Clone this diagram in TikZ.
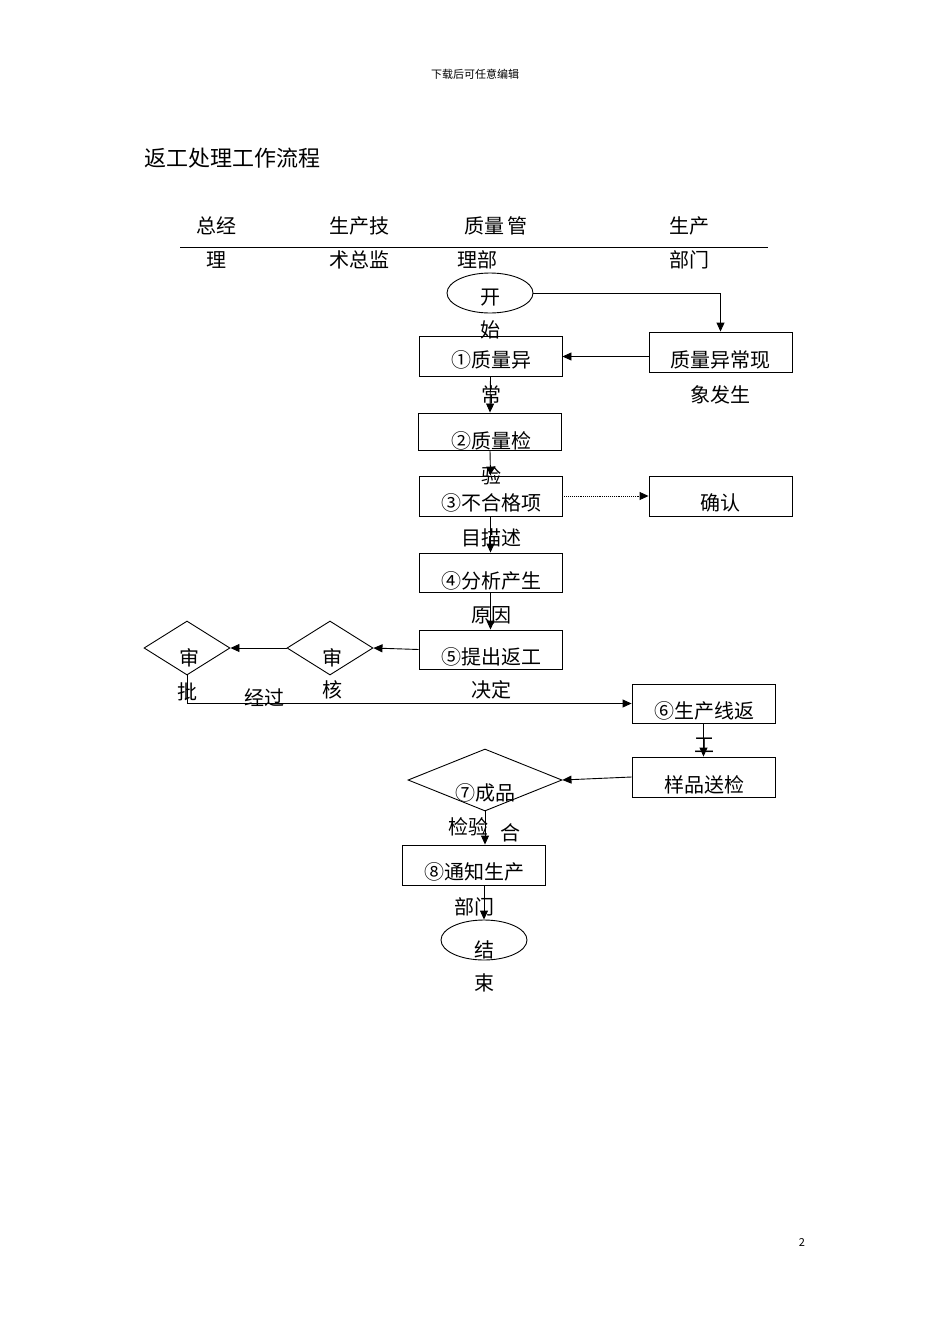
\documentclass[tikz,border=0pt]{standalone}
\usepackage{fontspec}
\setmainfont{Noto Sans CJK SC}
\usetikzlibrary{shapes.geometric,arrows.meta}
\begin{document}
\begin{tikzpicture}[x=1pt,y=-1pt,
  every path/.style={line width=0.9pt},
  box/.style={draw,rectangle,inner sep=0,minimum width=143,minimum height=40},
  dia/.style={draw,diamond,inner sep=0},
  ell/.style={draw,ellipse,inner sep=0,minimum width=86,minimum height=40},
  t/.style={inner sep=0,font=\fontsize{20}{20}\selectfont},
  arr/.style={-{Triangle[length=9pt,width=8pt]}}]
\useasboundingbox (0,0) rectangle (950,1344);
\node[inner sep=0,font=\fontsize{11}{11}\selectfont] (hd) at (475,74) {下载后可任意编辑};
\node[inner sep=0,anchor=west,font=\fontsize{22}{22}\selectfont] (title) at (144,158) {返工处理工作流程};
% header
\coordinate (l1) at (180,247); \coordinate (l2) at (768,247);
\draw (l1) -- (l2);
\node[t] (c1a) at (216,226) {总经}; \node[t] (c1b) at (216,260) {理};
\node[t] (c2a) at (359,226) {生产技}; \node[t] (c2b) at (359,260) {术总监};
\node[t] (c3a) at (496,226) {质量\,管}; \node[t,anchor=west] (c3b) at (457,260) {理部};
\node[t] (c4a) at (689,226) {生产}; \node[t] (c4b) at (689,260) {部门};
% shapes
\node[ell] (start) at (490,293) {};
\node[box] (b1) at (490.5,356.5) {};
\node[box,minimum height=37] (b2) at (490,431.5) {};
\node[box] (b3) at (490.5,496) {};
\node[box,minimum height=39] (b4) at (490.5,572.5) {};
\node[box,minimum height=39] (b5) at (490.5,649.5) {};
\node[box] (q) at (720.5,352) {};
\node[box] (ok) at (720.5,496) {};
\node[dia,minimum width=86,minimum height=54] (sh) at (330,648) {};
\node[dia,minimum width=86,minimum height=54] (sp) at (187,648) {};
\node[box,minimum height=39] (b6) at (703.5,703.5) {};
\node[box] (yp) at (703.5,777) {};
\node[dia,minimum width=154,minimum height=62] (b7) at (485,780) {};
\node[box] (b8) at (473.5,865) {};
\node[ell] (end) at (484,940) {};
% texts
\node[t] (x0a) at (490,298) {开}; \node[t] (x0b) at (490,330) {始};
\node[t] (x1a) at (491,360) {①质量异}; \node[t] (x1b) at (491,395) {常};
\node[t] (xqa) at (720,360) {质量异常现}; \node[t] (xqb) at (720,395) {象发生};
\node[t] (x2a) at (491,441) {②质量检}; \node[t] (x2b) at (491,476) {验};
\node[t] (x3a) at (491,503) {③不合格项}; \node[t] (x3b) at (491,538) {目描述};
\node[t] (xok) at (720,503) {确认};
\node[t] (x4a) at (491,581) {④分析产生}; \node[t] (x4b) at (491,615) {原因};
\node[t] (x5a) at (491,657) {⑤提出返工}; \node[t] (x5b) at (491,690) {决定};
\node[t] (xsha) at (332,658) {审}; \node[t] (xshb) at (332,690) {核};
\node[t] (xspa) at (189,658) {审}; \node[t] (xspb) at (187,692) {批};
\node[t] (xjg) at (264,698) {经过};
\node[t] (x6a) at (704,711) {⑥生产线返}; \node[t] (x6b) at (704,745) {工};
\node[t] (xyp) at (704,785) {样品送检};
\node[t] (x7a) at (485,793) {⑦成品}; \node[t] (x7b) at (468,827) {检验}; \node[t] (x7c) at (510,833) {合};
\node[t] (x8a) at (474,872) {⑧通知生产}; \node[t] (x8b) at (474,907) {部门};
\node[t] (xea) at (484,950) {结}; \node[t] (xeb) at (484,983) {束};
\node[inner sep=0,font=\fontsize{11}{11}\selectfont] (pg) at (802,1242) {2};
% connectors
\draw[arr] (start.east) -| (q.north);
\draw[arr] (q.west |- b1.east) -- (b1.east);
\draw[arr] (b1.south) -- (b2.north);
\draw[arr] (b2.south) -- (b3.north);
\draw[arr,densely dotted] (b3.east) -- (ok.west);
\draw[arr] (b3.south) -- (b4.north);
\draw[arr] (b4.south) -- (b5.north);
\draw[arr] (b5.west) -- (sh.east);
\draw[arr] (sh.west) -- (sp.east);
\draw[arr] (sp.south) |- (b6.west);
\draw[arr] (b6.south) -- (yp.north);
\draw[arr] (yp.west) -- (b7.east);
\draw[arr] (b7.south) -- (b8.north -| b7.south);
\draw[arr] (b8.south -| end.north) -- (end.north);
\end{tikzpicture}
\end{document}
